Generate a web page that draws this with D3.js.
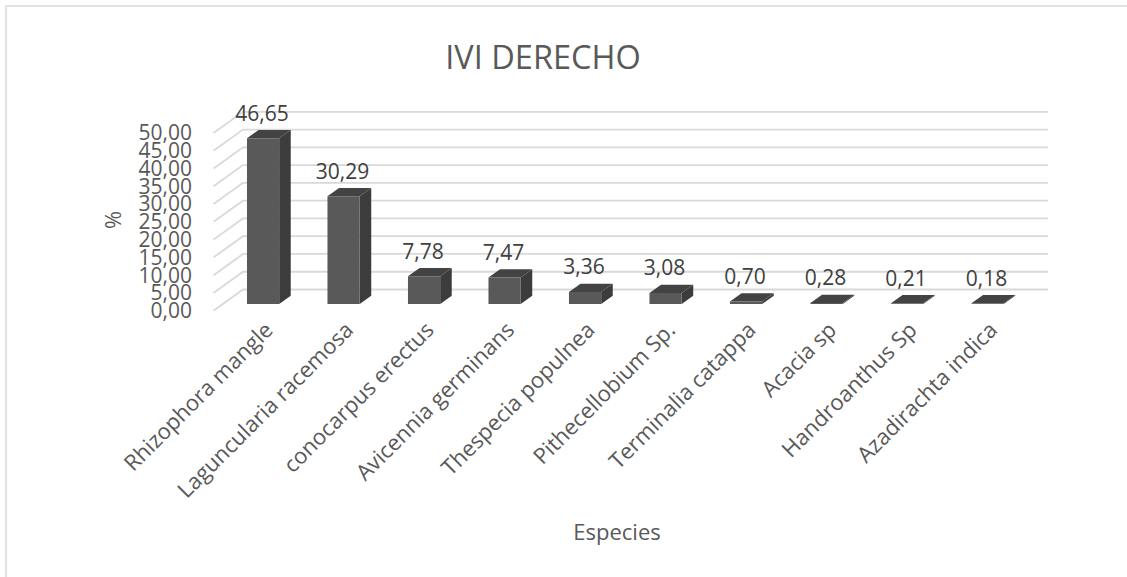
<!DOCTYPE html>
<html>
<head>
<meta charset="utf-8">
<script src="https://cdn.jsdelivr.net/npm/d3@7"></script>
<style>
  body { margin: 0; background: #fff; }
  svg { display: block; font-family: "Open Sans", sans-serif; }
</style>
</head>
<body>
<svg id="chart" width="1127" height="577"></svg>
<script>
// data
var especies = ["Rhizophora mangle", "Laguncularia racemosa", "conocarpus erectus",
  "Avicennia germinans", "Thespecia populnea", "Pithecellobium Sp.",
  "Terminalia catappa", "Acacia sp", "Handroanthus Sp", "Azadirachta indica"];
var ivi = [46.65, 30.29, 7.78, 7.47, 3.36, 3.08, 0.70, 0.28, 0.21, 0.18];
var yTicks = [0, 5, 10, 15, 20, 25, 30, 35, 40, 45, 50];

var svg = d3.select("#chart");

// comma decimal like the original
var es = d3.formatLocale({decimal: ",", thousands: ".", grouping: [3], currency: ["", ""]});
var fmt = es.format(".2f");

// 3d depth vector of the floor (front plane -> back wall)
var DX = 29.5, DY = 21.2;
var zFront = 0.316, zBack = 0.708;

var x = d3.scaleBand().domain(especies).range([213.5, 1018.5])
  .paddingInner(0.6).paddingOuter(0.3);
var y = d3.scaleLinear().domain([0, 50]).range([310.7, 133]);

function px(xf, z) { return xf + z * DX; }
function py(v, z) { return y(v) - z * DY; }

// chart border
svg.append("rect")
  .attr("x", 6).attr("y", 6).attr("width", 1140).attr("height", 600)
  .attr("fill", "none").attr("stroke", "#d9d9d9").attr("stroke-width", 1.5);

// title
svg.append("text")
  .attr("x", 543).attr("y", 69)
  .attr("text-anchor", "middle")
  .attr("font-size", 32.5).attr("fill", "#595959")
  .text("IVI DERECHO");

// gridlines: back wall + side wall
var grid = svg.append("g").attr("stroke", "#d9d9d9").attr("stroke-width", 1.8).attr("fill", "none");
var x0 = x.range()[0], x1 = x.range()[1];
grid.selectAll("path.g")
  .data(yTicks)
  .join("path")
  .attr("class", "g")
  .attr("d", function(d) {
    return "M" + px(x0, 0) + "," + py(d, 0) +
      "L" + px(x0, 1) + "," + py(d, 1) +
      "L" + px(x1, 1) + "," + py(d, 1);
  });

// y axis labels
svg.append("g").selectAll("text")
  .data(yTicks)
  .join("text")
  .attr("x", 192).attr("y", function(d) { return y(d); })
  .attr("dy", "0.35em")
  .attr("text-anchor", "end")
  .attr("font-size", 21).attr("fill", "#595959")
  .text(function(d) { return fmt(d); });

svg.append("text")
  .attr("transform", "translate(121,220) rotate(-90)")
  .attr("text-anchor", "middle")
  .attr("font-size", 22).attr("fill", "#595959")
  .text("%");

// bars
var bars = svg.append("g").selectAll("g")
  .data(ivi)
  .join("g");

function poly(pts) { return "M" + pts.map(function(p) { return p.join(","); }).join("L") + "Z"; }

bars.each(function(d, i) {
  var g = d3.select(this);
  var xl = x(especies[i]), xr = xl + x.bandwidth();
  // side face
  g.append("path")
    .attr("d", poly([[px(xr, zFront), py(0, zFront)], [px(xr, zBack), py(0, zBack)],
      [px(xr, zBack), py(d, zBack)], [px(xr, zFront), py(d, zFront)]]))
    .attr("fill", "#3c3c3c");
  // top face
  g.append("path")
    .attr("d", poly([[px(xl, zFront), py(d, zFront)], [px(xr, zFront), py(d, zFront)],
      [px(xr, zBack), py(d, zBack)], [px(xl, zBack), py(d, zBack)]]))
    .attr("fill", "#434343");
  // front face
  g.append("path")
    .attr("d", poly([[px(xl, zFront), py(0, zFront)], [px(xr, zFront), py(0, zFront)],
      [px(xr, zFront), py(d, zFront)], [px(xl, zFront), py(d, zFront)]]))
    .attr("fill", "#595959");
});

// value labels
svg.append("g").selectAll("text")
  .data(ivi)
  .join("text")
  .attr("x", function(d, i) { return px(x(especies[i]) + x.bandwidth() / 2, zFront) - 1; })
  .attr("y", function(d) { return py(d, zBack) - 16.7; })
  .attr("dy", "0.35em")
  .attr("text-anchor", "middle")
  .attr("font-size", 21).attr("fill", "#404040")
  .text(function(d) { return fmt(d); });

// category labels
svg.append("g").selectAll("text")
  .data(especies)
  .join("text")
  .attr("transform", function(d) {
    return "translate(" + (x(d) + x.bandwidth() / 2 + 15) + ",326) rotate(-45)";
  })
  .attr("dy", "0.35em")
  .attr("text-anchor", "end")
  .attr("font-size", 22).attr("fill", "#595959")
  .text(function(d) { return d; });

svg.append("text")
  .attr("x", 617).attr("y", 540)
  .attr("text-anchor", "middle")
  .attr("font-size", 22).attr("fill", "#595959")
  .text("Especies");
</script>
</body>
</html>
